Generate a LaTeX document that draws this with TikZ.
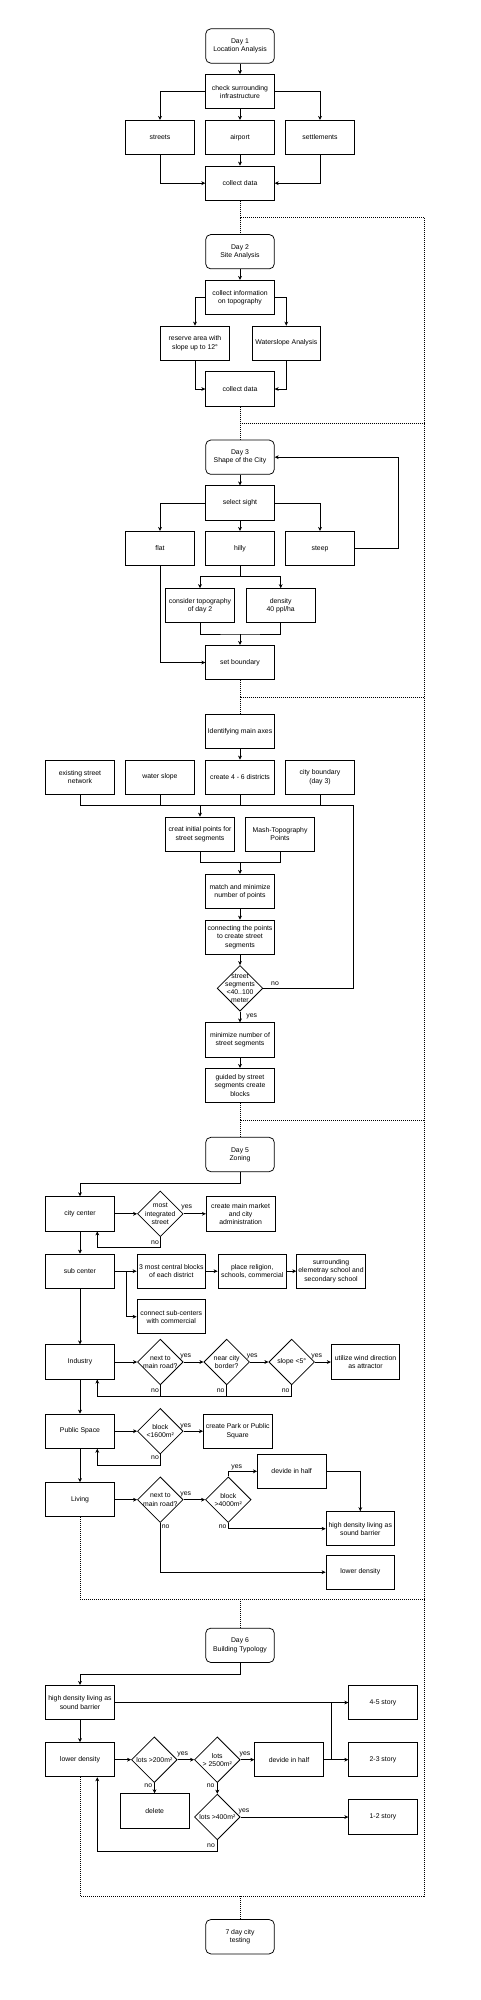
\documentclass[tikz,border=0pt]{standalone}
\usepackage{fontspec}
\setmainfont{Liberation Sans}
\usetikzlibrary{shapes.geometric,arrows.meta,calc}
\begin{document}
\begin{tikzpicture}[x=1pt,y=-1pt,
  every node/.style={font=\fontsize{6.86}{8.2}\selectfont},
  box/.style={draw, rectangle, minimum width=68.6pt, minimum height=34.3pt, inner sep=0.5pt, align=center, line width=0.75pt},
  rbox/.style={box, rounded corners=5pt},
  dia/.style={draw, diamond, minimum width=45.7pt, minimum height=45.7pt, inner sep=0pt, line width=0.75pt},
  dtxt/.style={align=center, inner sep=0pt},
  ln/.style={line width=0.75pt},
  arr/.style={ln, -{Stealth[length=4pt,width=3.8pt,inset=1.2pt]}},
  dot/.style={line width=0.7pt, dash pattern=on 0.7pt off 1.3pt},
  lbl/.style={inner sep=0.5pt},
]
\useasboundingbox (0,0) rectangle (481,2000);

% ---------- Day 1
\node[rbox] (d1) at (240,46) {Day 1\\Location Analysis};
\node[box] (chk) at (240,91.7) {check surrounding\\infrastructure};
\node[box] (str) at (160,137.5) {streets};
\node[box] (air) at (240,137.5) {airport};
\node[box] (set) at (320,137.5) {settlements};
\node[box] (cd1) at (240,183.2) {collect data};
\draw[arr] (d1) -- (chk);
\draw[arr] (chk.west) -| (str.north);
\draw[arr] (chk.east) -| (set.north);
\draw[arr] (chk) -- (air);
\draw[arr] (air) -- (cd1);
\draw[arr] (str.south) |- (cd1.west);
\draw[arr] (set.south) |- (cd1.east);

% dotted frame
\coordinate (j1) at (240,217.5);
\coordinate (r1) at (424,217.5);
\coordinate (j2) at (240,423);
\coordinate (r2) at (424,423);
\coordinate (j3) at (240,697.3);
\coordinate (r3) at (424,697.3);
\coordinate (j4) at (240,1120);
\coordinate (r4) at (424,1120);
\coordinate (j5) at (240,1599.3);
\coordinate (l5) at (80,1599.3);
\coordinate (r5) at (424,1599.3);
\coordinate (j6) at (240,1896);
\coordinate (l6) at (80,1896);
\coordinate (r6) at (424,1896);
\draw[dot] (r1) -- (r6);

% ---------- Day 2
\node[rbox] (d2) at (240,251.7) {Day 2\\Site Analysis};
\node[box] (ci) at (240,297.5) {collect information\\on topography};
\node[box] (res) at (195,343.2) {reserve area with\\slope up to 12°};
\node[box] (ws) at (286.3,343.2) {Waterslope Analysis};
\node[box] (cd2) at (240,389) {collect data};
\draw[dot] (cd1.south) -- (j1) -- (r1);
\draw[dot] (j1) -- (d2.north);
\draw[arr] (d2) -- (ci);
\draw[arr] (ci.west) -| (res.north);
\draw[arr] (ci.east) -| (ws.north);
\draw[arr] (res.south) |- (cd2.west);
\draw[arr] (ws.south) |- (cd2.east);

% ---------- Day 3
\node[rbox] (d3) at (240,457.2) {Day 3\\Shape of the City};
\node[box] (sel) at (240,503) {select sight};
\node[box] (flat) at (160,548.5) {flat};
\node[box] (hilly) at (240,548.5) {hilly};
\node[box] (steep) at (320,548.5) {steep};
\node[box] (con) at (200,605.7) {consider topography\\of day 2};
\node[box] (den) at (280.7,605.7) {density\\40 ppl/ha};
\node[box] (sb) at (240,662.5) {set boundary};
\draw[dot] (cd2.south) -- (j2) -- (r2);
\draw[dot] (j2) -- (d3.north);
\draw[arr] (d3) -- (sel);
\draw[arr] (sel.west) -| (flat.north);
\draw[arr] (sel.east) -| (steep.north);
\draw[arr] (sel) -- (hilly);
\draw[arr] (steep.east) -- ++(44,0) |- (d3.east);
\coordinate (hj) at (240,576.7);
\draw[ln] (hilly.south) -- (hj);
\draw[arr] (hj) -| (con.north);
\draw[arr] (hj) -| (den.north);
\coordinate (cj) at (240,634);
\draw[ln] (con.south) |- (cj) -| (den.south);
\draw[arr] (cj) -- (sb.north);
\draw[arr] (flat.south) |- (sb.west);

% ---------- Day 4
\node[box] (ax) at (240,731.3) {Identifying main axes};
\node[box] (esn) at (80,777.2) {existing street\\network};
\node[box] (wsl) at (160,777.2) {water slope};
\node[box] (c46) at (240,777.2) {create 4 - 6 districts};
\node[box] (cb) at (320,777.2) {city boundary\\(day 3)};
\node[box] (cip) at (200,834.2) {creat initial points for\\street segments};
\node[box] (mtp) at (280,834.2) {Mash-Topography\\Points};
\node[box] (mm) at (240,891.5) {match and minimize\\number of points};
\node[box] (cp) at (240,937.2) {connecting the points\\to create street\\segments};
\node[dia] (dd4) at (240,988.3) {};
\node[dtxt] (dd4t) at (dd4.center) {street\\segments\\<40..100\\meter};
\node[box] (mn) at (240,1040) {minimize number of\\street segments};
\node[box] (gd) at (240,1085.5) {guided by street\\segments create\\blocks};
\draw[dot] (sb.south) -- (j3) -- (r3);
\draw[dot] (j3) -- (ax.north);
\draw[arr] (ax) -- (c46);
\coordinate (bR) at (353.3,805.3);
\draw[ln] (esn.south) |- (bR);
\draw[ln] (wsl.south) -- (wsl.south |- bR);
\draw[ln] (c46.south) -- (c46.south |- bR);
\draw[ln] (cb.south) -- (cb.south |- bR);
\draw[arr] (cip.north |- bR) -- (cip.north);
\coordinate (mj) at (240,862.7);
\draw[ln] (cip.south) |- (mj) -| (mtp.south);
\draw[arr] (mj) -- (mm.north);
\draw[arr] (mm) -- (cp);
\draw[arr] (cp) -- (dd4);
\draw[arr] (dd4) -- (mn);
\draw[ln] (dd4.east) -| (bR);
\draw[arr] (mn) -- (gd);
\node[lbl] (y4) at (251.7,1016.7) {yes};
\node[lbl] (n4) at (275,984) {no};

% ---------- Day 5
\node[rbox] (d5) at (240,1154.5) {Day 5\\Zoning};
\node[box] (cc) at (80,1213.8) {city center};
\node[dia] (di) at (160.3,1213.8) {};
\node[dtxt] (dit) at (di.center) {most\\integrated\\street};
\node[box] (cmm) at (240.6,1213.8) {create main market\\and city\\administration};
\node[box] (sub) at (80,1271.2) {sub center};
\node[box] (mcb) at (171.3,1271.2) {3 most central blocks\\of each district};
\node[box] (pr) at (252.3,1271.2) {place religion,\\schools, commercial};
\node[box] (sur) at (331,1271.2) {surrounding\\elemetray school and\\secondary school};
\node[box] (csc) at (171.3,1316.7) {connect sub-centers\\with commercial};
\node[box] (ind) at (80,1362) {Industry};
\node[dia] (dn1) at (160.3,1362) {};
\node[dtxt] (dn1t) at (dn1.center) {next to\\main road?};
\node[dia] (dbo) at (226.7,1362) {};
\node[dtxt] (dbot) at (dbo.center) {near city\\border?};
\node[dia] (dsl) at (291.7,1362) {};
\node[dtxt] (dslt) at (dsl.center) {slope <5°};
\node[box] (uw) at (365.5,1362) {utilize wind direction\\as attractor};
\node[box] (ps) at (80,1431.2) {Public Space};
\node[dia] (db16) at (160.3,1431.2) {};
\node[dtxt] (db16t) at (db16.center) {block\\<1600m²};
\node[box] (cpk) at (237.7,1431.2) {create Park or Public\\Square};
\node[box] (lv) at (80,1499.7) {Living};
\node[dia] (dn2) at (160.3,1499.7) {};
\node[dtxt] (dn2t) at (dn2.center) {next to\\main road?};
\node[dia] (db40) at (228.3,1499.7) {};
\node[dtxt] (db40t) at (db40.center) {block\\>4000m²};
\node[box] (dv1) at (291.7,1471.3) {devide in half};
\node[box] (hd1) at (360.3,1528.7) {high density living as\\sound barrier};
\node[box] (ld1) at (360.3,1572.2) {lower density};

\draw[dot] (gd.south) -- (j4) -- (r4);
\draw[dot] (j4) -- (d5.north);
\coordinate (k5) at (80,1183.3);
\draw[arr] (d5.south) |- (k5) -- (cc.north);
\draw[arr] (cc) -- (di);
\draw[arr] (di) -- (cmm);
\coordinate (ccb) at (97.3,1247.7);
\draw[arr] (di.south) |- (ccb) -- (ccb |- cc.south);
\node[lbl] (yi) at (186.7,1207.7) {yes};
\node[lbl] (ni) at (155,1242.7) {no};
\draw[arr] (cc) -- (sub);
\coordinate (sj) at (126,1271.2);
\draw[arr] (sub) -- (mcb);
\draw[arr] (sj) |- (csc.west);
\draw[arr] (mcb) -- (pr);
\draw[arr] (pr) -- (sur);
\draw[arr] (sub) -- (ind);
\draw[arr] (ind) -- (dn1);
\draw[arr] (dn1) -- (dbo);
\draw[arr] (dbo) -- (dsl);
\draw[arr] (dsl) -- (uw);
\node[lbl] (yn1) at (185.7,1356.7) {yes};
\node[lbl] (ybo) at (252.3,1356.7) {yes};
\node[lbl] (ysl) at (316.7,1356.7) {yes};
\coordinate (ib) at (97.3,1396);
\draw[ln] (dsl.south) |- (ib);
\draw[arr] (ib) -- (ib |- ind.south);
\draw[ln] (dn1.south) -- (dn1.south |- ib);
\draw[ln] (dbo.south) -- (dbo.south |- ib);
\node[lbl] (nn1) at (155,1391) {no};
\node[lbl] (nbo) at (220.7,1391) {no};
\node[lbl] (nsl) at (285.7,1391) {no};
\draw[arr] (ind) -- (ps);
\draw[arr] (ps) -- (db16);
\draw[arr] (db16) -- (cpk);
\node[lbl] (y16) at (185.7,1426) {yes};
\coordinate (pb) at (97.3,1465.7);
\draw[arr] (db16.south) |- (pb) -- (pb |- ps.south);
\node[lbl] (n16) at (155,1457.7) {no};
\draw[arr] (ps) -- (lv);
\draw[arr] (lv) -- (dn2);
\draw[arr] (dn2) -- (db40);
\node[lbl] (yn2) at (185.7,1494) {yes};
\draw[arr] (db40.north) |- (dv1.west);
\node[lbl] (y40) at (236.7,1467.7) {yes};
\draw[arr] (dv1.east) -| (hd1.north);
\draw[arr] (db40.south) |- (hd1.west);
\node[lbl] (n40) at (222.7,1526.7) {no};
\draw[arr] (dn2.south) |- (ld1.west);
\node[lbl] (nn2) at (165.7,1526.7) {no};

% ---------- Day 6
\node[rbox] (d6) at (240,1645.3) {Day 6\\Building Typology};
\node[box] (hd2) at (80,1702.5) {high density living as\\sound barrier};
\node[box] (s45) at (383,1702.5) {4-5 story};
\node[box] (ld2) at (80,1759.7) {lower density};
\node[dia] (d200) at (154.3,1759.7) {};
\node[dtxt] (d200t) at (d200.center) {lots >200m²};
\node[dia] (d2500) at (217.3,1759.7) {};
\node[dtxt] (d2500t) at (d2500.center) {lots\\> 2500m²};
\node[box] (dv2) at (289,1759.7) {devide in half};
\node[box] (s23) at (383,1759.7) {2-3 story};
\node[box] (del) at (154.7,1810.8) {delete};
\node[dia] (d400) at (217.3,1817) {};
\node[dtxt] (d400t) at (d400.center) {lots >400m²};
\node[box] (s12) at (383,1817) {1-2 story};

\draw[dot] (lv.south) -- (l5) -- (r5);
\draw[dot] (j5) -- (d6.north);
\coordinate (k6) at (80,1674.3);
\draw[arr] (d6.south) |- (k6) -- (hd2.north);
\draw[arr] (hd2) -- (s45);
\draw[arr] (hd2) -- (ld2);
\draw[arr] (ld2) -- (d200);
\draw[arr] (d200) -- (d2500);
\draw[arr] (d2500) -- (dv2);
\draw[arr] (dv2) -- (s23);
\coordinate (vj) at (331.7,1759.7);
\draw[ln] (vj) -- (vj |- s45.west);
\draw[arr] (d200) -- (del);
\draw[arr] (d2500) -- (d400);
\draw[arr] (d400) -- (s12);
\coordinate (lb) at (97.3,1851.7);
\draw[arr] (d400.south) |- (lb) -- (lb |- ld2.south);
\node[lbl] (y200) at (182.7,1754) {yes};
\node[lbl] (y2500) at (245,1754) {yes};
\node[lbl] (n200) at (148.3,1785.7) {no};
\node[lbl] (n2500) at (210.7,1785.7) {no};
\node[lbl] (y400) at (244,1811) {yes};
\node[lbl] (n400) at (211,1846) {no};

% ---------- Day 7
\node[rbox] (t7) at (240,1936.7) {7 day city\\testing};
\draw[dot] (ld2.south) -- (l6) -- (r6);
\draw[dot] (j6) -- (t7.north);
\end{tikzpicture}
\end{document}
